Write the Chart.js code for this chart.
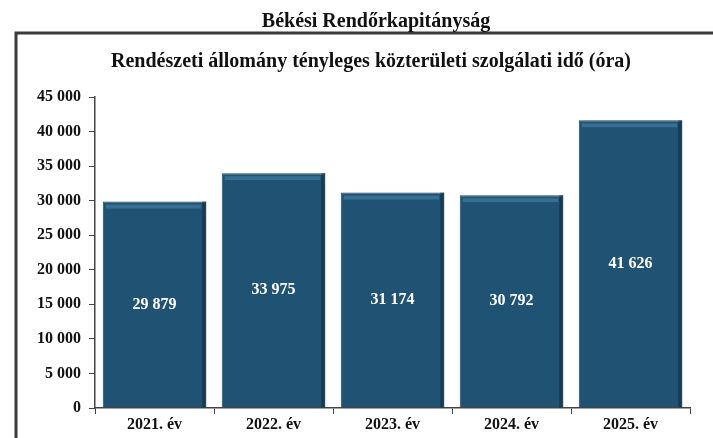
<!DOCTYPE html>
<html>
<head>
<meta charset="utf-8">
<script src="https://cdn.jsdelivr.net/npm/chart.js@4.4.1/dist/chart.umd.min.js"></script>
<style>
  html, body { margin: 0; padding: 0; background: #fff; }
  #wrap { position: relative; width: 713px; height: 438px; }
</style>
</head>
<body>
<div id="wrap"><canvas id="chart" width="713" height="438"></canvas></div>
<script>
// adatok
const evek = ['2021. év', '2022. év', '2023. év', '2024. év', '2025. év'];
const orak = [29879, 33975, 31174, 30792, 41626];
const fejlec = 'Békési Rendőrkapitányság';
const cim = 'Rendészeti állomány tényleges közterületi szolgálati idő (óra)';

const betu = '"Liberation Serif", "Times New Roman", serif';

function ezres(n) {
    return String(n).replace(/\B(?=(\d{3})+(?!\d))/g, ' ');
}

// keret + feliratok
const keretPlugin = {
    id: 'keret',
    beforeDraw(chart) {
        const ctx = chart.ctx;
        ctx.save();
        ctx.fillStyle = '#fff';
        ctx.fillRect(0, 0, chart.width, chart.height);
        ctx.strokeStyle = '#3a3a3a';
        ctx.lineWidth = 3;
        ctx.beginPath();
        ctx.moveTo(16, 440);
        ctx.lineTo(16, 33);
        ctx.lineTo(713, 33);
        ctx.stroke();
        ctx.fillStyle = '#111';
        ctx.textAlign = 'center';
        ctx.textBaseline = 'alphabetic';
        ctx.font = 'bold 20px ' + betu;
        ctx.fillText(fejlec, 376, 27);
        ctx.textBaseline = 'middle';
        ctx.font = 'bold 20px ' + betu;
        ctx.fillText(cim, 371, 62);
        ctx.restore();
    },
    afterDatasetsDraw(chart) {
        const ctx = chart.ctx;
        const meta = chart.getDatasetMeta(0);
        ctx.save();
        meta.data.forEach((bar, i) => {
            const w = bar.width;
            // vilagosabb csik a tetejen
            ctx.fillStyle = 'rgba(80,140,180,0.5)';
            ctx.fillRect(bar.x - w / 2 + 3, bar.y + 3, w - 8, 4);
            // sotetebb jobb szel
            ctx.fillStyle = 'rgba(10,30,45,0.45)';
            ctx.fillRect(bar.x + w / 2 - 4, bar.y, 4, bar.base - bar.y);
            // ertek felirat
            ctx.fillStyle = '#fff';
            ctx.font = 'bold 16px ' + betu;
            ctx.textAlign = 'center';
            ctx.textBaseline = 'middle';
            ctx.fillText(ezres(orak[i]), bar.x, (bar.y + bar.base) / 2);
        });
        ctx.restore();
    }
};

new Chart(document.getElementById('chart'), {
    type: 'bar',
    data: {
        labels: evek,
        datasets: [{
            data: orak,
            backgroundColor: '#1f5273',
            borderColor: '#1a4561',
            borderWidth: 1,
            categoryPercentage: 0.87,
            barPercentage: 1
        }]
    },
    options: {
        responsive: false,
        animation: false,
        layout: { padding: { top: 97, right: 23, left: 0, bottom: 0 } },
        plugins: {
            legend: { display: false },
            tooltip: { enabled: false }
        },
        scales: {
            x: {
                grid: { display: true, drawOnChartArea: false, color: '#444', tickLength: 6 },
                border: { color: '#444', width: 1.5 },
                ticks: { color: '#111', font: { family: betu, size: 16, weight: 'bold' }, padding: 1 },
                afterFit(scale) { scale.height = 30; }
            },
            y: {
                min: 0,
                max: 45000,
                grid: { display: true, drawOnChartArea: false, color: '#444', tickLength: 6 },
                border: { color: '#444', width: 1.5 },
                ticks: {
                    stepSize: 5000,
                    color: '#111',
                    font: { family: betu, size: 16, weight: 'bold' },
                    padding: 8,
                    callback: v => ezres(v)
                },
                afterFit(scale) { scale.width = 95; }
            }
        }
    },
    plugins: [keretPlugin]
});
</script>
</body>
</html>
